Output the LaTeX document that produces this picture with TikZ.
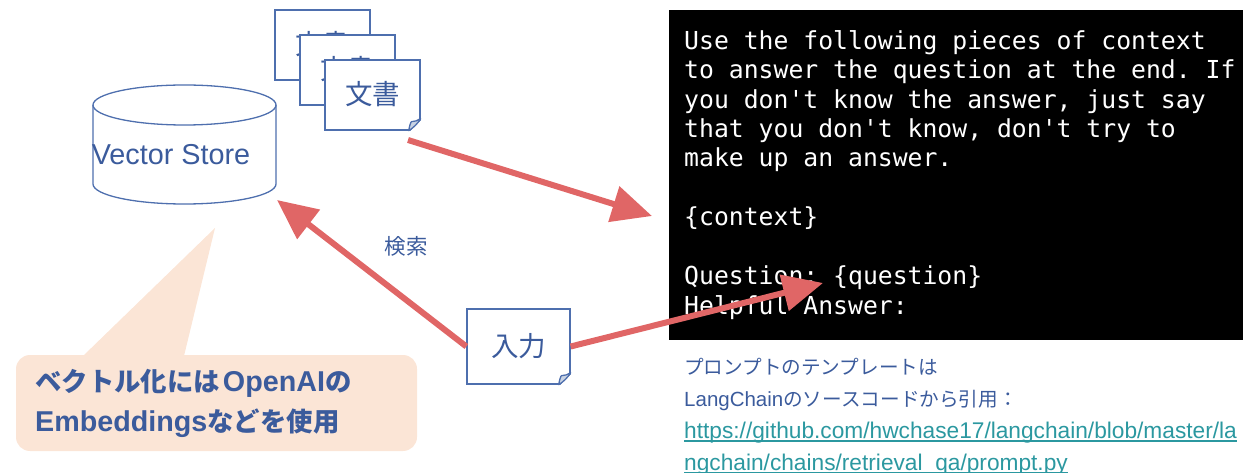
\documentclass[tikz,border=0pt]{standalone}
\usepackage{fontspec}
\usetikzlibrary{arrows.meta}
\setmainfont{Liberation Sans}
\newfontfamily\jpf{Noto Sans CJK JP}
\newfontfamily\monof{DejaVu Sans Mono}
\definecolor{inkblue}{HTML}{3B5B9C}
\definecolor{lineblue}{HTML}{4E6FAE}
\definecolor{salmon}{HTML}{E06666}
\definecolor{peach}{HTML}{FBE5D6}
\definecolor{linkteal}{HTML}{2B98A0}
\definecolor{foldgrey}{HTML}{C9D3E3}
\newcommand{\lnk}[1]{\setbox0\hbox{\textcolor{linkteal}{#1}}\rlap{\textcolor{linkteal}{\rule[-3.2pt]{\wd0}{1.3pt}}}\box0 }
\newcommand{\docfold}[1]{%
  \begin{scope}[shift={(#1.south -| #1.east)}]
    \fill[white] (-12,2) -- (2,2) -- (2,-12) -- cycle;
    \draw[lineblue,line width=1.3pt,fill=foldgrey,line join=round] (-12,0) .. controls (-11,-5) and (-10,-9) .. (-9,-9) .. controls (-6,-9) and (-3,-10) .. (0,-12) .. controls (-3,-7) and (-7,-3) .. (-12,0) -- cycle;
  \end{scope}}
\tikzset{
  x=1pt,y=-1pt,
  paper/.style={rectangle,draw=lineblue,line width=1.3pt,fill=white,text=inkblue,inner sep=0pt,font=\jpf\fontsize{27.5}{30}\selectfont},
  flow/.style={draw=salmon,line width=6pt,-{Triangle[length=40pt,width=36pt]}},
  codebox/.style={fill=black,inner sep=0pt,minimum width=574pt,minimum height=330pt,anchor=north west},
  cyl/.style={draw=lineblue,line width=1.3pt},
}
\begin{document}
\begin{tikzpicture}
\useasboundingbox (0,0) rectangle (1243,473);
% code panel
\node[codebox] (panel) at (669,10) {};
\node[anchor=north west,align=left,inner sep=0pt,text=white,font=\monof\frenchspacing\fontsize{24.75}{29.45}\selectfont] (code) at (684,30) {Use the following pieces of context\\to answer the question at the end. If\\you don't know the answer, just say\\that you don't know, don't try to\\make up an answer.\\\mbox{}\\\{context\}\\\mbox{}\\Question: \{question\}\\Helpful Answer:};
% documents
\node[paper,minimum width=95pt,minimum height=70pt] (doc1) at (322.5,45) {\raisebox{5pt}{文書}};
\node[paper,minimum width=95pt,minimum height=70pt] (doc2) at (347.5,70) {\raisebox{5pt}{文書}};
\node[paper,minimum width=95pt,minimum height=70pt] (doc3) at (372.5,95) {\raisebox{5pt}{文書}};
\docfold{doc3}
% store
\draw[cyl] (184.5,105) ellipse [x radius=91.5,y radius=20];
\draw[cyl] (93,105) -- (93,184) arc[start angle=180,end angle=0,x radius=91.5,y radius=20] -- (276,105);
\node[text=inkblue,font=\fontsize{28.8}{30}\selectfont] (store) at (171,155) {Vector Store};
% callout
\fill[peach] (83,356) -- (215,228) -- (184,356) -- cycle;
\node[fill=peach,rounded corners=14pt,minimum width=401pt,minimum height=96pt,inner sep=0pt] (note) at (216.5,403) {};
\node[anchor=north west,align=left,inner sep=0pt,text=inkblue,font=\bfseries\fontsize{28.7}{40}\selectfont] (notetext) at (35,369) {{\jpf\bfseries\fontsize{26.4}{40}\selectfont ベクトル化には}\hspace{3pt}OpenAI{\jpf\bfseries\fontsize{26.4}{40}\selectfont の}\\Embeddings{\jpf\bfseries\fontsize{26.4}{40}\selectfont などを使用}};
% input
\node[paper,minimum width=103pt,minimum height=75pt] (input) at (518.5,346.5) {入力};
\docfold{input}
% connectors
\coordinate (ctx) at (652,216);
\coordinate (q) at (823,283);
\coordinate (storeend) at (277,200);
\coordinate (docout) at (408,140);
\draw[flow] (docout) -- (ctx);
\draw[flow] (input.west) -- (storeend);
\draw[flow] (input.east) -- (q);
\node[text=inkblue,font=\jpf\fontsize{21.5}{24}\selectfont] (search) at (406,246) {検索};
% caption
\node[anchor=north west,align=left,inner sep=0pt,text=inkblue,font=\fontsize{20.5}{32}\selectfont] (cap) at (684,358) {{\jpf\fontsize{19.6}{32}\selectfont プロンプトのテンプレートは}\\LangChain{\jpf\fontsize{19.6}{32}\selectfont のソースコードから引用：}\\{\fontsize{22.7}{32}\selectfont\lnk{https://github.com/hwchase17/langchain/blob/master/la}}\\{\fontsize{22.7}{32}\selectfont\lnk{ngchain/chains/retrieval\_qa/prompt.py}}};
\end{tikzpicture}
\end{document}
